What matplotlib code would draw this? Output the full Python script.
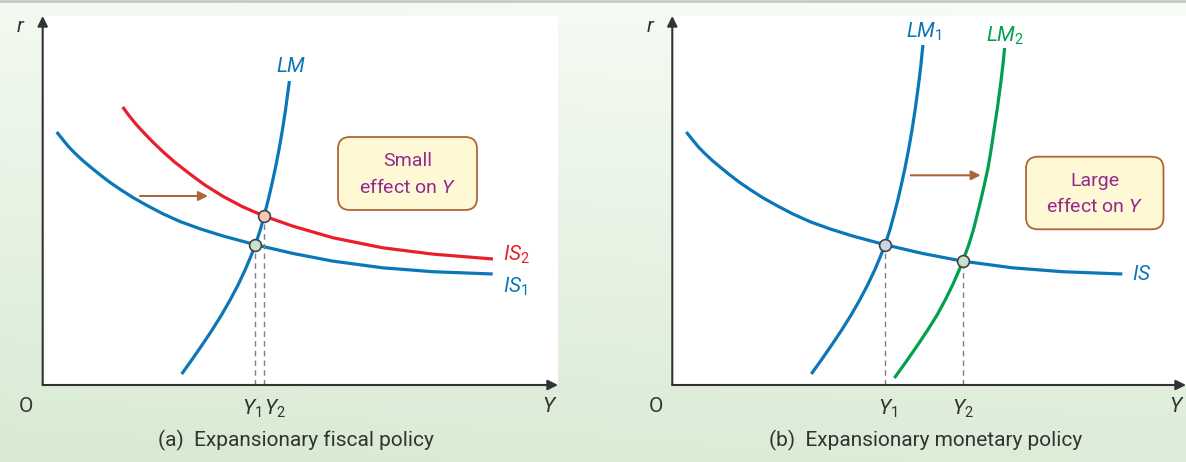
import numpy as np
import matplotlib.pyplot as plt
from matplotlib.patches import FancyBboxPatch
from matplotlib.lines import Line2D

plt.rcParams["font.family"] = ["Roboto", "DejaVu Sans"]
plt.rcParams["mathtext.fontset"] = "custom"
plt.rcParams["mathtext.it"] = "Roboto:italic"
plt.rcParams["mathtext.rm"] = "Roboto"

# curve points (units ~ pixels from the origin)
is1_x = [14, 20, 26, 32, 40, 48, 57, 67, 78, 90, 104, 120, 138, 158, 180, 212.6, 250, 290, 340, 390, 450]
is1_y = [253, 245.5, 238.2, 232, 224.5, 217.8, 210.5, 202.8, 195.3, 187.6, 179.7, 171.3, 163.2, 156,
         149.1, 140.3, 131.6, 123.9, 117.2, 113.3, 111]
is2_x = [80, 86, 93, 101, 110, 120, 132, 146, 162, 180, 200, 221.3, 250, 290, 340, 390, 450.3]
is2_y = [278, 269.8, 261.2, 252.4, 243.1, 233.5, 222.9, 211.9, 200.1, 188.8, 178.2, 169, 158.9, 147.3,
         137.2, 130.9, 126]

lm1_y = [11, 25, 40, 55, 70, 85, 100, 115, 128, 140.3, 155, 169, 185, 200, 218, 236, 255, 275, 304, 320, 340]
lm1_x = [139, 149.0, 159.4, 169.4, 178.8, 187.4, 195.3, 202.4, 207.9, 212.7, 217.55, 221.4, 225.5, 229.0,
         232.9, 236.4, 239.7, 242.8, 246.7, 248.6, 250.6]
lm_x, lm_y = lm1_x[:19], lm1_y[:19]  # panel (a) LM stops lower

lm2_y = [7, 25, 40, 55, 70, 85, 100, 115, 128, 140.3, 155, 169, 185, 200, 218, 236, 255, 275, 304, 320, 337]
lm2_x = [222.1, 235.0, 245.4, 255.4, 264.8, 272.9, 280.3, 286.9, 291.9, 296.5, 301.05, 304.6, 308.5, 312.0,
         315.9, 318.9, 321.7, 324.8, 328.7, 330.6, 332.3]

eq_left = [(212.6, 140.3), (221.3, 169)]
eq_right = [(212.6, 140.3), (290.3, 123.9)]
eq_left_fc = ["#c9e2cf", "#f7c9b4"]
eq_right_fc = ["#c6d7ea", "#c9e2cf"]

blue = "#0a77b8"
red = "#e8202b"
green = "#00a04e"
brown = "#b0643a"
purple = "#922a8e"
dark = "#333333"

fig = plt.figure(figsize=(11.86, 4.62), dpi=100)

# background gradient
bg = fig.add_axes([0, 0, 1, 1])
t = np.linspace(0, 1, 200)[:, None] * np.ones((1, 300))
s = np.linspace(0, 1, 300)[None, :] * np.ones((200, 1))
top = np.array([248, 252, 246]) / 255
bot = np.array([216, 234, 211]) / 255
w = np.clip(0.85 * t + 0.15 * (1 - s), 0, 1)[..., None]
bg.imshow(top * (1 - w) + bot * w, aspect="auto", extent=[0, 1, 0, 1])
bg.axis("off")
fig.add_artist(Line2D([0, 1], [0.997, 0.997], transform=fig.transFigure, color="#c8c8c8", lw=2))


def setup(rect, xmax):
    ax = fig.add_axes(rect)
    ax.set_facecolor("white")
    ax.set_xlim(0, xmax)
    ax.set_ylim(0, 369)
    ax.set_xticks([])
    ax.set_yticks([])
    for sp in ax.spines.values():
        sp.set_visible(False)
    ap = dict(arrowstyle="-|>", color=dark, lw=1.5, mutation_scale=15, shrinkA=0, shrinkB=0)
    ax.annotate("", xy=(0, 369), xytext=(0, 0), arrowprops=ap, annotation_clip=False)
    ax.annotate("", xy=(xmax, 0), xytext=(0, 0), arrowprops=ap, annotation_clip=False)
    ax.text(-22, 358, "$r$", fontsize=15, color=dark, ha="center", va="center")
    ax.text(-16.5, -22, "O", fontsize=15, color=dark, ha="center", va="center")
    return ax


def box(ax, x0, y0, w_, h_, lines):
    ax.add_patch(FancyBboxPatch((x0, y0), w_, h_, boxstyle="round,pad=0,rounding_size=12",
                                fc="#fff8d4", ec=brown, lw=1.3, zorder=4))
    ax.text(x0 + w_ / 2, y0 + h_ * 0.67, lines[0], fontsize=14, color=purple,
            ha="center", va="center", zorder=5)
    ax.text(x0 + w_ / 2, y0 + h_ * 0.31, lines[1], fontsize=14, color=purple,
            ha="center", va="center", zorder=5)


def curve(ax, x, y, c):
    ax.plot(x, y, color=c, lw=2.3, solid_capstyle="butt", solid_joinstyle="round")


# (a) fiscal policy
ax1 = setup([42.7 / 1186, 77 / 462, 515.3 / 1186, 369 / 462], 515.3)
curve(ax1, is1_x, is1_y, blue)
curve(ax1, is2_x, is2_y, red)
curve(ax1, lm_x, lm_y, blue)
for (x, y), fc in zip(eq_left, eq_left_fc):
    ax1.plot([x, x], [0, y], color="#808080", lw=1, dashes=(4, 3))
    ax1.plot(x, y, "o", ms=8.5, mfc=fc, mec="#444444", mew=1.2, zorder=6)
ax1.annotate("", xy=(165.3, 189), xytext=(97.3, 189),
             arrowprops=dict(arrowstyle="-|>", color=brown, lw=1.5, mutation_scale=14, shrinkA=0, shrinkB=0))
box(ax1, 295.3, 175, 139, 73, ["Small", "effect on $Y$"])
ax1.text(248.3, 319, "$LM$", fontsize=15, color=blue, ha="center", va="center")
ax1.text(460, 130, "$IS_2$", fontsize=15, color=red, ha="left", va="center")
ax1.text(460, 98, "$IS_1$", fontsize=15, color=blue, ha="left", va="center")
ax1.text(209.3, -24, "$Y_1$", fontsize=15, color=dark, ha="center", va="center")
ax1.text(232.3, -24, "$Y_2$", fontsize=15, color=dark, ha="center", va="center")
ax1.text(507.3, -22, "$Y$", fontsize=15, color=dark, ha="center", va="center")
ax1.text(253.3, -55, "(a)  Expansionary fiscal policy", fontsize=15, color=dark, ha="center", va="center")

# (b) monetary policy
ax2 = setup([672.3 / 1186, 77 / 462, 513.7 / 1186, 369 / 462], 513.7)
curve(ax2, is1_x, is1_y, blue)
curve(ax2, lm1_x, lm1_y, blue)
curve(ax2, lm2_x, lm2_y, green)
for (x, y), fc in zip(eq_right, eq_right_fc):
    ax2.plot([x, x], [0, y], color="#808080", lw=1, dashes=(4, 3))
    ax2.plot(x, y, "o", ms=8.5, mfc=fc, mec="#444444", mew=1.2, zorder=6)
ax2.annotate("", xy=(308.4, 209.7), xytext=(238.4, 209.7),
             arrowprops=dict(arrowstyle="-|>", color=brown, lw=1.5, mutation_scale=14, shrinkA=0, shrinkB=0))
box(ax2, 353.7, 155.7, 137.5, 72.6, ["Large", "effect on $Y$"])
ax2.text(252, 353, "$LM_1$", fontsize=15, color=blue, ha="center", va="center")
ax2.text(332.5, 349, "$LM_2$", fontsize=15, color=green, ha="center", va="center")
ax2.text(460, 110, "$IS$", fontsize=15, color=blue, ha="left", va="center")
ax2.text(215.4, -24, "$Y_1$", fontsize=15, color=dark, ha="center", va="center")
ax2.text(290.3, -24, "$Y_2$", fontsize=15, color=dark, ha="center", va="center")
ax2.text(504.5, -22, "$Y$", fontsize=15, color=dark, ha="center", va="center")
ax2.text(253.7, -55, "(b)  Expansionary monetary policy", fontsize=15, color=dark, ha="center", va="center")

fig.savefig("out.png", dpi=100)
